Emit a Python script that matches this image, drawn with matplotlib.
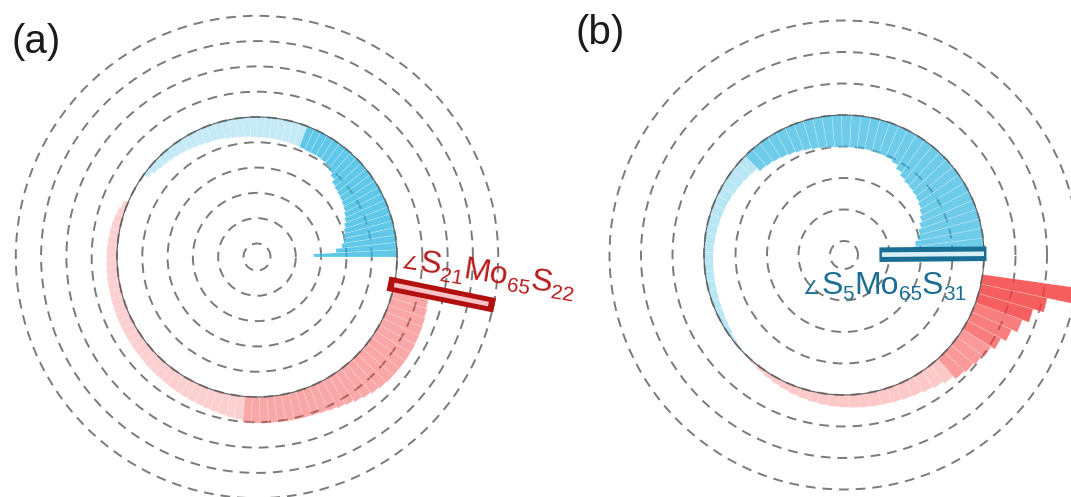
import numpy as np
import matplotlib
matplotlib.use("Agg")
import matplotlib.pyplot as plt
from matplotlib import font_manager as fm
from matplotlib.colors import to_rgb

plt.rcParams['font.family'] = ['Liberation Sans', 'DejaVu Sans']
plt.rcParams['lines.scale_dashes'] = False

W, H = 1071, 497


def upright(name):
    """Regular (non-italic, normal weight) face of an installed family."""
    for f in fm.fontManager.ttflist:
        if (f.name == name and f.style == 'normal'
                and f.weight in (400, 'normal', 'regular')
                and f.stretch == 'normal'):
            return f.fname
    return fm.findfont(fm.FontProperties(family=name, style='normal',
                                         weight='normal'))


SANS = upright('Liberation Sans')
SYMB = upright('DejaVu Sans')

# ---------------- panel (a) ----------------
a_step = 3.0
a_blue_theta = np.arange(1.5, 143.0, a_step)
a_blue_vals = [-3.3, -2.4, -2.15, -2.05, -2.0, -1.93, -1.85, -1.76, -1.68,
               -1.6, -1.55, -1.5, -1.46, -1.42, -1.35, -1.2, -1.08, -0.98,
               -0.92, -0.9, -0.9, -0.9, -0.88,
               -0.86, -0.85, -0.84, -0.83, -0.82, -0.81, -0.8, -0.79, -0.77,
               -0.75, -0.73, -0.7, -0.67, -0.64, -0.62, -0.59, -0.56, -0.52,
               -0.48, -0.45, -0.41, -0.38, -0.35, -0.3, -0.2]
a_red_theta = np.arange(-15.5, -203.0, -a_step)
a_red_vals = [1.45, 1.5, 1.54, 1.57, 1.59, 1.61, 1.62, 1.62, 1.61, 1.6, 1.57,
              1.52, 1.45, 1.38, 1.3, 1.24, 1.18, 1.13, 1.1, 1.08, 1.07, 1.06,
              1.05, 1.04, 1.04, 1.03, 1.02,
              0.92, 0.88, 0.84, 0.8, 0.77, 0.74, 0.71, 0.68, 0.66, 0.64,
              0.62, 0.6, 0.58, 0.57, 0.55, 0.54, 0.53, 0.52, 0.51, 0.5,
              0.49, 0.48, 0.47, 0.46, 0.45, 0.44, 0.43, 0.42, 0.41, 0.4,
              0.39, 0.37, 0.35, 0.31, 0.26, 0.19]
a_mark_theta, a_mark_val = -11.5, 3.8
a_label = [('∠', 'sym'), ('S', 'main'), ('21', 'sub'), ('Mo', 'main'),
           ('65', 'sub'), ('S', 'main'), ('22', 'sub')]

# ---------------- panel (b) ----------------
b_step = 4.0
b_blue_theta = np.arange(5.0, 222.0, b_step)
b_blue_vals = [-2.25, -2.15, -2.05, -1.95, -1.85, -1.75, -1.66, -1.58, -1.52,
               -1.48, -1.45, -1.42, -1.36, -1.25, -1.12, -1.06, -1.04, -1.03,
               -1.02, -1.02, -1.02, -1.02, -1.01, -1.0, -0.97, -0.94, -0.9,
               -0.86, -0.82, -0.78, -0.74, -0.71, -0.68,
               -0.55, -0.52, -0.49, -0.46, -0.43, -0.4, -0.38, -0.36, -0.34,
               -0.32, -0.3, -0.29, -0.28, -0.27, -0.26, -0.25, -0.23, -0.21,
               -0.18, -0.14, -0.09, -0.04]
b_red_theta = np.arange(-10.0, -135.0, -b_step)
b_red_vals = [2.95, 2.15, 1.8, 1.58, 1.38, 1.2, 1.06, 0.98, 0.92, 0.86,
              0.74, 0.66, 0.6, 0.55, 0.52, 0.49, 0.47, 0.45, 0.43, 0.41,
              0.39, 0.37, 0.35, 0.32, 0.29, 0.26, 0.22, 0.18, 0.14, 0.1,
              0.06, 0.03]
b_mark_theta, b_mark_val = 0.5, -3.24
b_label = [('∠', 'sym'), ('S', 'main'), ('5', 'sub'), ('Mo', 'main'),
           ('65', 'sub'), ('S', 'main'), ('31', 'sub')]

BLUE = to_rgb('#29b5e0')
RED = to_rgb('#f53c3c')


def shade(theta, bands):
    """Opacity per bar: bands is a list of (angle limit, alpha) checked by |theta|."""
    out = []
    for t in theta:
        for lim, al in bands:
            if abs(t) <= lim:
                out.append(al)
                break
    return out


def polar_panel(cx, cy, px_unit, rlim, rticks):
    rad = (rlim[1] - rlim[0]) * px_unit
    rect = [(cx - rad) / W, (H - cy - rad) / H, 2 * rad / W, 2 * rad / H]
    ax = fig.add_axes(rect, projection='polar')
    ax.set_aspect('auto')
    ax.set_ylim(*rlim)
    ax.set_yticks(rticks)
    ax.set_yticklabels([])
    ax.set_xticks([])
    ax.yaxis.grid(True, color='#7a7a7a', lw=1.4, linestyle=(0, (7.0, 5.0)))
    ax.spines['polar'].set_visible(False)
    ax.patch.set_alpha(0)
    ax.set_axisbelow(True)
    return ax


def draw_bars(ax, theta, vals, step, base, alphas):
    faces = [(*base, a) for a in alphas]
    ax.bar(np.deg2rad(theta), vals, width=np.deg2rad(step), bottom=0,
           color=faces, edgecolor=(1, 1, 1, 0.3), linewidth=0.5, zorder=2)


def draw_mark(ax, theta, val, pad, dark, light):
    sgn = np.sign(val)
    th = np.deg2rad(theta)
    ax.plot([th, th], [-sgn * pad, val + sgn * pad], color=dark, lw=10.5,
            solid_capstyle='butt', zorder=5)
    ax.plot([th, th], [0, val], color=light, lw=3.3,
            solid_capstyle='butt', zorder=6)


def baseline(ax):
    t = np.linspace(0, 2 * np.pi, 721)
    ax.plot(t, np.zeros_like(t), color='#5c5c5c', lw=0.8, zorder=4)


def formula(x0, y0, pieces, size, color, angle):
    """Chemical label written piece by piece along a (possibly tilted) baseline."""
    rend = fig.canvas.get_renderer()
    a = np.deg2rad(angle)
    ux, uy = np.cos(a), np.sin(a)
    dx, dy = np.sin(a), -np.cos(a)
    scale = {'main': 1.0, 'sub': 0.65, 'sym': 0.6}
    cur = 0.0
    for s, kind in pieces:
        prop = fm.FontProperties(fname=SYMB if kind == 'sym' else SANS,
                                 size=size * scale[kind])
        t = fig.text(0, 0, s, fontproperties=prop, color=color,
                     ha='left', va='baseline')
        w = t.get_window_extent(rend).width
        drop = size * 0.2 * 100 / 72 if kind == 'sub' else 0.0
        px = x0 + cur * ux + drop * dx
        py = (H - y0) + cur * uy + drop * dy
        t.set_position((px / W, py / H))
        t.set_rotation(angle)
        t.set_rotation_mode('anchor')
        cur += w + (2 if kind == 'sym' else 0)


fig = plt.figure(figsize=(W / 100, H / 100), dpi=100)

# (a)
ax_a = polar_panel(257, 257, 25.3, (-5.534, 4.6), list(range(-5, 5)))
draw_bars(ax_a, a_blue_theta, a_blue_vals, a_step, BLUE,
          shade(a_blue_theta, [(69, 0.75), (360, 0.28)]))
draw_bars(ax_a, a_red_theta, a_red_vals, a_step, RED,
          shade(a_red_theta, [(95, 0.45), (360, 0.24)]))
baseline(ax_a)
draw_mark(ax_a, a_mark_theta, a_mark_val, 0.25, '#b40f0f', '#f6c4c4')
formula(400, 268, a_label, 23, '#b71c1c', -9)
fig.text(12 / W, 1 - 42 / H, '(a)', color='#1a1a1a', ha='left', va='center',
         fontproperties=fm.FontProperties(fname=SANS, size=29))

# (b)
ax_b = polar_panel(844, 255, 31.5, (-4.444, 3.7), list(range(-4, 4)))
draw_bars(ax_b, b_blue_theta, b_blue_vals, b_step, BLUE,
          shade(b_blue_theta, [(135, 0.68), (360, 0.33)]))
draw_bars(ax_b, b_red_theta, b_red_vals, b_step, RED,
          shade(b_red_theta, [(20, 0.82), (32, 0.66), (49, 0.52), (360, 0.28)]))
baseline(ax_b)
draw_mark(ax_b, b_mark_theta, b_mark_val, 0.08, '#1a6e93', '#d8f0f8')
formula(802, 294, b_label, 23, '#1b6e94', 0)
fig.text(575 / W, 1 - 33 / H, '(b)', color='#1a1a1a', ha='left', va='center',
         fontproperties=fm.FontProperties(fname=SANS, size=29))

fig.savefig('out.png', dpi=100)
